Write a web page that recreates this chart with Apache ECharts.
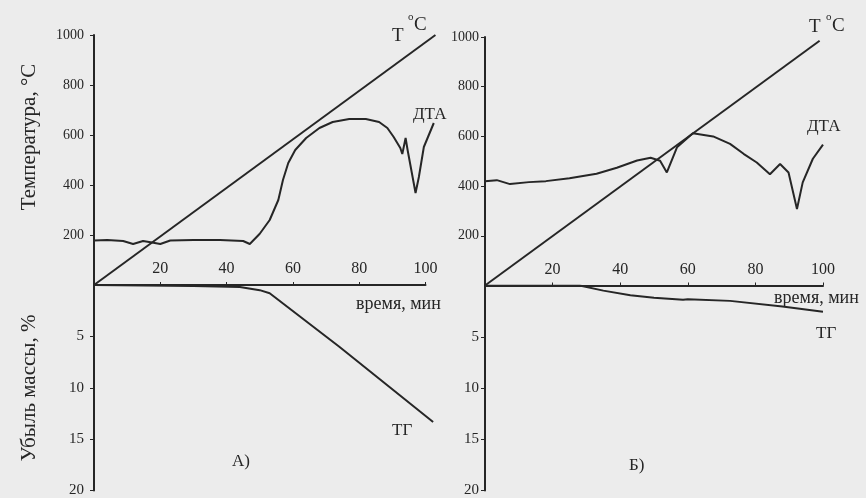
<!DOCTYPE html>
<html>
<head>
<meta charset="utf-8">
<script src="https://cdn.jsdelivr.net/npm/echarts@6/dist/echarts.min.js"></script>
<style>
  html, body { margin: 0; padding: 0; background: #ececec; }
  #chart { width: 866px; height: 498px; }
</style>
</head>
<body>
<div id="chart"></div>
<script>
// Thermal analysis of two samples: heating temperature, DTA and TG curves vs time (min)
const timeTicks = [0, 20, 40, 60, 80, 100];
const tempTicks = [0, 200, 400, 600, 800, 1000];
const lossTicks = [0, 5, 10, 15, 20];

// Sample A
const heatA = [[0, 0], [103, 1000]];
const dtaA = [
  [0, 178], [4, 180], [8.8, 176], [11.8, 164], [14.8, 176], [17.5, 170], [20, 164],
  [23, 178], [30, 180], [38, 180], [45, 176], [47, 164], [50, 205], [53, 260],
  [55.6, 340], [57, 420], [58.6, 488], [60.7, 540], [64, 588], [68, 628], [72, 652],
  [77, 664], [82, 664], [86, 652], [88.5, 628], [90.4, 592], [92.4, 548], [93, 524],
  [94, 588], [94.6, 540], [97, 368], [98, 432], [99.5, 552], [102.5, 648]
];
const tgA = [[0, 0], [30, 0.1], [44, 0.2], [50, 0.5], [53, 0.8], [74, 6.0], [102.3, 13.3]];

// Sample B
const heatB = [[0, 0], [99, 985]];
const dtaB = [
  [0, 420], [3.5, 424], [7.4, 408], [13, 416], [18, 420], [25, 432], [33, 450],
  [39, 474], [45, 503], [49, 514], [51.8, 502], [53.8, 455], [56.8, 556], [61.5, 613],
  [67.5, 600], [72.5, 570], [76.5, 530], [80.4, 495], [84.3, 448], [87.3, 489],
  [89.8, 455], [92.3, 308], [94, 415], [97, 510], [100, 567]
];
const tgB = [[0, 0], [28, 0], [35, 0.5], [43, 0.95], [50, 1.2], [58.6, 1.4], [60, 1.35],
  [72.5, 1.5], [88, 2.05], [100, 2.55]];

const ink = '#262626';
const serif = '"Liberation Serif", "DejaVu Serif", serif';
const plainNumber = v => String(v);

// Panel frames: axes cover 0..100 min; curves run on a wider copy reaching 110 min
const panels = [
  { left: 94, width: 331.5, top: 35, split: 285, bottom: 491, labelGap: 10 },
  { left: 485, width: 338, top: 37, split: 285.5, bottom: 490.5, labelGap: 6 }
];
const CURVE_MAX = 110;

const grids = [], xAxes = [], yAxes = [];
function addGrid(grid, xAxis, yAxis) {
  const i = grids.length;
  grids.push(grid);
  xAxes.push(Object.assign({ type: 'value', gridIndex: i }, xAxis));
  yAxes.push(Object.assign({ type: 'value', gridIndex: i }, yAxis));
  return i;
}

const axisLine = { show: true, onZero: false, lineStyle: { color: ink, width: 2 } };
const yTick = { show: true, length: 4, lineStyle: { color: ink } };
const tempRange = { min: tempTicks[0], max: tempTicks[tempTicks.length - 1], interval: 200 };
const lossRange = { inverse: true, min: lossTicks[0], max: lossTicks[lossTicks.length - 1], interval: 5 };

const idx = panels.map(p => {
  const upper = { left: p.left, top: p.top, width: p.width, height: p.split - p.top };
  const lower = { left: p.left, top: p.split, width: p.width, height: p.bottom - p.split };
  // visible axes
  addGrid(upper,
    { min: 0, max: 100, interval: 20, axisLine,
      axisTick: { show: true, inside: true, length: 3, lineStyle: { color: ink } },
      axisLabel: { inside: true, margin: 8, showMinLabel: false, color: ink, fontFamily: serif, fontSize: 16 },
      splitLine: { show: false } },
    Object.assign({ axisLine, axisTick: yTick, splitLine: { show: false },
      axisLabel: { showMinLabel: false, margin: p.labelGap, color: ink, fontFamily: serif, fontSize: 14, formatter: plainNumber } },
      tempRange));
  addGrid(lower,
    { min: 0, max: 100, show: false },
    Object.assign({ axisLine, axisTick: yTick, splitLine: { show: false },
      axisLabel: { showMinLabel: false, margin: p.labelGap, color: ink, fontFamily: serif, fontSize: 15, formatter: plainNumber } },
      lossRange));
  // curve layers, same scale per minute, extended to the right
  const wide = p.width * CURVE_MAX / 100;
  const tUp = addGrid(Object.assign({}, upper, { width: wide }),
    { min: 0, max: CURVE_MAX, show: false },
    Object.assign({ show: false }, tempRange));
  const tLo = addGrid(Object.assign({}, lower, { width: wide }),
    { min: 0, max: CURVE_MAX, show: false },
    Object.assign({ show: false }, lossRange));
  return { tUp, tLo };
});

function curve(data, axisIndex) {
  return {
    type: 'line', data, xAxisIndex: axisIndex, yAxisIndex: axisIndex,
    showSymbol: false, silent: true,
    lineStyle: { color: ink, width: 2 }
  };
}
// text placed by its vertical centre
function label(text, x, y, size) {
  return {
    type: 'text', x, y,
    style: { text, fill: ink, font: size + 'px ' + serif, verticalAlign: 'middle' }
  };
}
function vlabel(text, x, y) {
  return {
    type: 'text', x, y, rotation: Math.PI / 2,
    style: { text, fill: ink, font: '21px ' + serif, align: 'center', verticalAlign: 'middle' }
  };
}

const chart = echarts.init(document.getElementById('chart'));
chart.setOption({
  backgroundColor: '#ececec',
  animation: false,
  grid: grids,
  xAxis: xAxes,
  yAxis: yAxes,
  series: [
    curve(heatA, idx[0].tUp), curve(dtaA, idx[0].tUp), curve(tgA, idx[0].tLo),
    curve(heatB, idx[1].tUp), curve(dtaB, idx[1].tUp), curve(tgB, idx[1].tLo)
  ],
  graphic: [
    // panel A
    label('Т', 392, 36, 19), label('o', 408, 17, 11), label('C', 414, 25, 19),
    label('ДТА', 413, 115, 17),
    label('время, мин', 356, 304, 18),
    label('ТГ', 392, 431, 17),
    label('А)', 232, 462, 17),
    vlabel('Температура, °C', 29, 137),
    vlabel('Убыль массы, %', 29, 388),
    // panel B
    label('Т', 809, 27, 19), label('o', 826, 17, 11), label('C', 832, 26, 19),
    label('ДТА', 807, 127, 17),
    label('время, мин', 774, 298, 18),
    label('ТГ', 816, 334, 17),
    label('Б)', 629, 466, 17)
  ]
});
</script>
</body>
</html>
